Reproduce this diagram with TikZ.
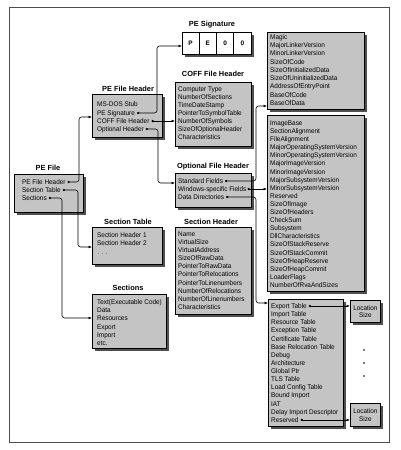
\documentclass[tikz,border=0pt]{standalone}
\usepackage{fontspec}
\setmainfont{Liberation Sans}
\newfontfamily\itemfont{Liberation Sans}[FakeStretch=0.94]
\usetikzlibrary{arrows.meta,shadows}
\definecolor{boxgray}{RGB}{196,196,196}
\definecolor{shadowgray}{RGB}{80,80,80}
\begin{document}
\begin{tikzpicture}[x=1pt,y=-1pt,
  box/.style={draw=black,line width=0.9pt,fill=boxgray,anchor=north west,inner sep=0pt,
     drop shadow={shadow xshift=2.2pt,shadow yshift=-2.2pt,fill=shadowgray,opacity=1}},
  item/.style={anchor=west,inner sep=0pt,font=\itemfont\fontsize{6.8}{7}\selectfont,text height=4.9pt,text depth=0pt},
  ttl/.style={inner sep=0pt,font=\bfseries\fontsize{7.4}{8}\selectfont},
  sig/.style={inner sep=0pt,font=\bfseries\fontsize{6.5}{7}\selectfont},
  dotn/.style={circle,fill=black,inner sep=0pt,minimum size=2.5pt},
  sdot/.style={circle,fill=black,inner sep=0pt,minimum size=1.6pt},
  conn/.style={line width=0.55pt,rounded corners=2.5pt,-{Latex[length=3.5pt,width=2.8pt]}}
]
\useasboundingbox (0,0) rectangle (400,450);
\fill[white] (0,0) rectangle (400,450);
\draw[black!70,line width=0.5pt] (9,7) rectangle (389,442);

% ---------- boxes ----------
\node[box,minimum width=69pt,minimum height=38pt] (pefile) at (14,174) {};
\node[box,minimum width=70pt,minimum height=43pt] (pehdr) at (92,94) {};
\node[box,fill=white,minimum width=69pt,minimum height=22pt] (pesig) at (182,32) {};
\node[box,minimum width=76pt,minimum height=64pt] (coff) at (175,82) {};
\node[box,minimum width=76pt,minimum height=34pt] (opt) at (175,173) {};
\node[box,minimum width=97pt,minimum height=77pt] (std) at (267,32) {};
\node[box,minimum width=97pt,minimum height=176pt] (win) at (267,115) {};
\node[box,minimum width=75pt,minimum height=127pt] (dd) at (268,299) {};
\node[box,minimum width=30pt,minimum height=22pt,align=center,font=\itemfont\fontsize{6.8}{7.6}\selectfont] (loc1) at (350,300) {Location\\Size};
\node[box,minimum width=30pt,minimum height=23pt,align=center,font=\itemfont\fontsize{6.8}{7.6}\selectfont] (loc2) at (350,403) {Location\\Size};
\node[box,minimum width=70pt,minimum height=37pt] (sectab) at (92,227) {};
\node[box,minimum width=74pt,minimum height=54pt] (sections) at (92,294) {};
\node[box,minimum width=76pt,minimum height=87pt] (sechdr) at (175,227) {};

% ---------- titles ----------
\node[ttl] (t-pefile) at (48,168) {PE File};
\node[ttl] (t-pehdr) at (128,89) {PE File Header};
\node[ttl] (t-pesig) at (212,25) {PE Signature};
\node[ttl] (t-coff) at (213,74) {COFF File Header};
\node[ttl] (t-opt) at (213,167) {Optional File Header};
\node[ttl] (t-sectab) at (128,222) {Section Table};
\node[ttl] (t-sechdr) at (211,222) {Section Header};
\node[ttl] (t-sections) at (128,288) {Sections};

% ---------- PE signature cells ----------
\draw[line width=0.9pt] (199.25,32) -- (199.25,54) (216.5,32) -- (216.5,54) (233.75,32) -- (233.75,54);
\node[sig] (s1) at (190.6,43) {P};
\node[sig] (s2) at (207.9,43) {E};
\node[sig] (s3) at (225.1,43) {0};
\node[sig] (s4) at (242.4,43) {0};

% ---------- items ----------
\node[item] (pf1) at (22,182) {PE File Header};
\node[item] (pf2) at (22,190) {Section Table};
\node[item] (pf3) at (22,198) {Sections};

\node[item] (ph1) at (97,104) {MS-DOS Stub};
\node[item] (ph2) at (97,113) {PE Signature};
\node[item] (ph3) at (97,121) {COFF File Header};
\node[item] (ph4) at (97,129) {Optional Header};

\foreach \t [count=\i] in {Computer Type,NumberOfSections,TimeDateStamp,PointerToSymbolTable,NumberOfSymbols,SizeOfOptionalHeader,Characteristics}
  \node[item] (cf\i) at (178,{89+8*(\i-1)}) {\t};

\node[item] (of1) at (178,181) {Standard Fields};
\node[item] (of2) at (178,189) {Windows-specific Fields};
\node[item] (of3) at (178,197) {Data Directories};

\foreach \t [count=\i] in {Magic,MajorLinkerVersion,MinorLinkerVersion,SizeOfCode,SizeOfInitializedData,SizeOfUninitializedData,AddressOfEntryPoint,BaseOfCode,BaseOfData}
  \node[item] (sf\i) at (270,{37+8.25*(\i-1)}) {\t};

\foreach \t [count=\i] in {ImageBase,SectionAlignment,FileAlignment,MajorOperatingSystemVersion,MinorOperatingSystemVersion,MajorImageVersion,MinorImageVersion,MajorSubsystemVersion,MinorSubsystemVersion,Reserved,SizeOfImage,SizeOfHeaders,CheckSum,Subsystem,DllCharacteristics,SizeOfStackReserve,SizeOfStackCommit,SizeOfHeapReserve,SizeOfHeapCommit,LoaderFlags,NumberOfRvaAndSizes}
  \node[item] (wf\i) at (270,{123+8.1*(\i-1)}) {\t};

\foreach \t [count=\i] in {Export Table,Import Table,Resource Table,Exception Table,Certificate Table,Base Relocation Table,Debug,Architecture,Global Ptr,TLS Table,Load Config Table,Bound Import,IAT,Delay Import Descriptor,Reserved}
  \node[item] (dd\i) at (271,{306+8.14*(\i-1)}) {\t};

\node[item] (st1) at (97,235) {Section Header 1};
\node[item] (st2) at (97,243) {Section Header 2};
\node[item] (st3) at (97,253) {$\cdot$ $\cdot$ $\cdot$};

\foreach \t [count=\i] in {Text(Executable Code),Data,Resources,Export,Import,etc.}
  \node[item] (sc\i) at (97,{302+8.2*(\i-1)}) {\t};

\foreach \t [count=\i] in {Name,VirtualSize,VirtualAddress,SizeOfRawData,PointerToRawData,PointerToRelocations,PointerToLinenumbers,NumberOfRelocations,NumberOfLinenumbers,Characteristics}
  \node[item] (sh\i) at (178,{234+8.1*(\i-1)}) {\t};

% ---------- dots ----------
\node[dotn] (d-pfh) at ([xshift=3pt]pf1.east) {};
\node[dotn] (d-st) at ([xshift=3pt]pf2.east) {};
\node[dotn] (d-sec) at ([xshift=3pt]pf3.east) {};
\node[dotn] (d-pes) at ([xshift=3pt]ph2.east) {};
\node[dotn] (d-coff) at ([xshift=3pt]ph3.east) {};
\node[dotn] (d-opt) at ([xshift=3pt]ph4.east) {};
\node[dotn] (d-sf) at ([xshift=3pt]of1.east) {};
\node[dotn] (d-wf) at ([xshift=2pt]of2.east) {};
\node[dotn] (d-dd) at ([xshift=3pt]of3.east) {};
\node[dotn] (d-exp) at ([xshift=3pt]dd1.east) {};
\node[dotn] (d-res) at ([xshift=3pt]dd15.east) {};

\node[sdot] (v1) at (364,350) {};
\node[sdot] (v2) at (364,363) {};
\node[sdot] (v3) at (364,376) {};

% ---------- connectors ----------
\draw[conn] (d-pfh.center) -- (d-pfh.center -| 79,0) |- (pehdr.west |- 0,117);
\draw[conn] (d-st.center) -- (d-st.center -| 78,0) |- (sectab.west |- 0,247);
\draw[conn] (d-sec.center) -- (d-sec.center -| 62,0) |- (sections.west |- 0,318);
\draw[conn] (d-pes.center) -- (d-pes.center -| 157,0) |- (pesig.west |- 0,46);
\draw[conn] (d-coff.center) -- (coff.west |- d-coff.center);
\draw[conn] (d-opt.center) -- (d-opt.center -| 158,0) |- (opt.west |- 0,183);
\draw[conn] (d-sf.center) -- (d-sf.center -| 256,0) |- (std.west |- 0,106);
\draw[conn] (d-wf.center) -- (win.west |- d-wf.center);
\draw[conn] (d-dd.center) -- (d-dd.center -| 256,0) |- (dd.west |- 0,303);
\draw[conn] (d-exp.center) -- (loc1.west |- d-exp.center);
\draw[conn] (d-res.center) -- (loc2.west |- d-res.center);
\end{tikzpicture}
\end{document}
